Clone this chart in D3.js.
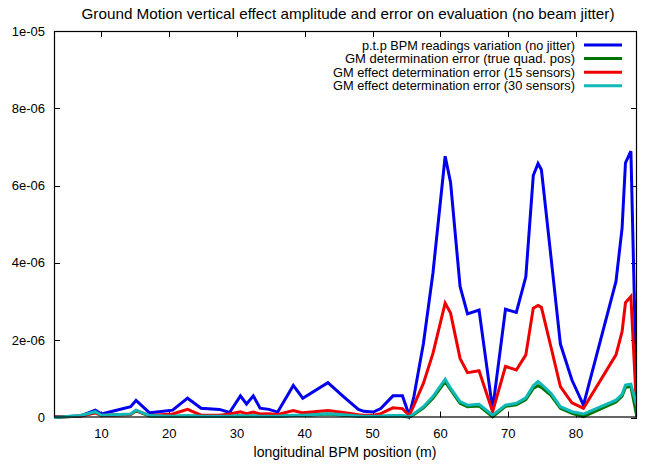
<!DOCTYPE html>
<html>
<head>
<meta charset="utf-8">
<script src="https://cdn.jsdelivr.net/npm/d3@7"></script>
<style>
  html, body { margin: 0; padding: 0; background: #fff; }
  svg { display: block; font-family: "Liberation Sans", Arial, sans-serif; }
</style>
</head>
<body>
<svg id="chart" width="647" height="464"></svg>
<script>
// ---- data (amplitudes in units of 1e-6 m) ----
const unit = 1e-6;
const positions = [3.0, 6.9, 9.1, 10.0, 14.3, 15.1, 17.1, 20.5, 22.7, 24.7, 27.4, 28.9, 30.5, 31.4, 32.4, 33.4, 34.7, 36.0, 38.3, 39.7, 43.4, 45.7, 47.9, 48.7, 50.1, 51.2, 53.0, 54.4, 55.4, 56.1, 57.5, 58.9, 60.7, 61.5, 62.9, 64.0, 65.7, 67.7, 69.6, 71.2, 72.6, 73.7, 74.4, 74.9, 76.3, 77.7, 79.4, 81.1, 85.9, 86.8, 87.3, 88.1, 89.0];
const ptpBPM = [0.01, 0.04, 0.19, 0.09, 0.28, 0.44, 0.12, 0.19, 0.50, 0.24, 0.21, 0.13, 0.56, 0.35, 0.56, 0.24, 0.21, 0.14, 0.83, 0.50, 0.90, 0.54, 0.21, 0.16, 0.14, 0.23, 0.56, 0.56, 0.05, 0.55, 1.92, 3.74, 6.76, 6.08, 3.39, 2.68, 2.78, 0.21, 2.80, 2.72, 3.64, 6.26, 6.57, 6.41, 4.17, 1.90, 0.97, 0.32, 3.52, 4.90, 6.59, 6.89, 0.12];
const gmTrueQuad = [0.00, 0.04, 0.13, 0.05, 0.08, 0.17, 0.04, 0.03, 0.04, 0.03, 0.03, 0.03, 0.04, 0.03, 0.04, 0.03, 0.03, 0.03, 0.05, 0.05, 0.09, 0.06, 0.04, 0.03, 0.03, 0.03, 0.04, 0.04, 0.01, 0.08, 0.25, 0.50, 0.93, 0.72, 0.37, 0.28, 0.30, 0.02, 0.29, 0.33, 0.46, 0.75, 0.82, 0.78, 0.57, 0.24, 0.11, 0.02, 0.40, 0.55, 0.78, 0.80, 0.00];
const gm15 = [0.01, 0.03, 0.12, 0.05, 0.08, 0.18, 0.05, 0.09, 0.21, 0.06, 0.06, 0.09, 0.15, 0.10, 0.14, 0.09, 0.10, 0.08, 0.18, 0.12, 0.18, 0.13, 0.07, 0.06, 0.06, 0.10, 0.25, 0.23, 0.05, 0.32, 0.89, 1.66, 2.96, 2.70, 1.53, 1.16, 1.21, 0.15, 1.32, 1.23, 1.62, 2.83, 2.90, 2.85, 1.83, 0.80, 0.38, 0.24, 1.62, 2.22, 2.97, 3.13, 0.00];
const gm30 = [0.00, 0.05, 0.15, 0.06, 0.09, 0.19, 0.05, 0.03, 0.05, 0.03, 0.03, 0.03, 0.05, 0.04, 0.05, 0.03, 0.03, 0.03, 0.06, 0.06, 0.10, 0.07, 0.04, 0.03, 0.03, 0.03, 0.05, 0.05, 0.02, 0.10, 0.28, 0.54, 0.99, 0.76, 0.41, 0.32, 0.34, 0.06, 0.32, 0.37, 0.51, 0.82, 0.93, 0.86, 0.63, 0.28, 0.15, 0.09, 0.45, 0.60, 0.84, 0.86, 0.28];
const seriesNames = [
  "p.t.p BPM readings variation (no jitter)",
  "GM determination error (true quad. pos)",
  "GM effect determination error (15 sensors)",
  "GM effect determination error (30 sensors)"
];
const seriesColors = ["#0000ee", "#007400", "#ee0000", "#10b8b8"];
const xTicks = [10, 20, 30, 40, 50, 60, 70, 80];
const yTicks = [0, 2e-6, 4e-6, 6e-6, 8e-6, 1e-5];
const yTickLabels = ["0", "2e-06", "4e-06", "6e-06", "8e-06", "1e-05"];
const titleText = "Ground Motion vertical effect amplitude and error on evaluation (no beam jitter)";
const xLabelText = "longitudinal BPM position (m)";

// ---- layout ----
const svg = d3.select("#chart");
const L = 54, R = 637, T = 31, B = 417.5;
const x = d3.scaleLinear().domain([3, 89]).range([L, R]);
const y = d3.scaleLinear().domain([0, 1e-5]).range([B, T]);
const tick = 6;

const allSeries = [ptpBPM, gmTrueQuad, gm15, gm30];

svg.append("defs").append("clipPath").attr("id", "clip")
  .append("rect").attr("x", L).attr("y", T - 2).attr("width", R - L).attr("height", B - T + 4);

// ticks (inward, mirrored)
const tg = svg.append("g").attr("stroke", "#000").attr("stroke-width", 1);
xTicks.forEach(v => {
  const px = Math.round(x(v)) + 0.5;
  tg.append("line").attr("x1", px).attr("x2", px).attr("y1", B).attr("y2", B - tick);
  tg.append("line").attr("x1", px).attr("x2", px).attr("y1", T).attr("y2", T + tick);
});
yTicks.forEach(v => {
  const py = Math.round(y(v)) + 0.5;
  tg.append("line").attr("x1", L).attr("x2", L + tick).attr("y1", py).attr("y2", py);
  tg.append("line").attr("x1", R).attr("x2", R - tick).attr("y1", py).attr("y2", py);
});

// lines
const line = d3.line().x((d, i) => x(positions[i])).y(d => y(d * unit));
const lg = svg.append("g").attr("clip-path", "url(#clip)");
allSeries.forEach((s, k) => {
  lg.append("path").datum(s).attr("d", line)
    .attr("fill", "none").attr("stroke", seriesColors[k])
    .attr("stroke-width", 3).attr("stroke-linejoin", "miter");
});

// frame
svg.append("rect").attr("x", L + 0.5).attr("y", T + 0.5)
  .attr("width", R - L - 1).attr("height", B - T - 1)
  .attr("fill", "none").attr("stroke", "#000").attr("stroke-width", 1.2);

// tick labels
xTicks.forEach(v => {
  svg.append("text").attr("x", x(v)).attr("y", 438)
    .attr("text-anchor", "middle").attr("font-size", 13).text(v);
});
yTicks.forEach((v, i) => {
  svg.append("text").attr("x", 45).attr("y", y(v) + 4.5)
    .attr("text-anchor", "end").attr("font-size", 13).text(yTickLabels[i]);
});

// title and axis label
svg.append("text").attr("x", 348).attr("y", 19)
  .attr("text-anchor", "middle").attr("font-size", 15)
  .attr("textLength", 533).attr("lengthAdjust", "spacingAndGlyphs").text(titleText);
svg.append("text").attr("x", 345).attr("y", 457)
  .attr("text-anchor", "middle").attr("font-size", 14)
  .attr("textLength", 183).attr("lengthAdjust", "spacingAndGlyphs").text(xLabelText);

// legend
const legendStarts = [362, 345, 333, 333];
seriesNames.forEach((name, k) => {
  const ly = 45 + k * 13.6;
  svg.append("text").attr("x", legendStarts[k]).attr("y", ly + 4.5)
    .attr("font-size", 12.6)
    .attr("textLength", 575 - legendStarts[k]).attr("lengthAdjust", "spacingAndGlyphs").text(name);
  svg.append("line").attr("x1", 584).attr("x2", 622).attr("y1", ly).attr("y2", ly)
    .attr("stroke", seriesColors[k]).attr("stroke-width", 3);
});
</script>
</body>
</html>
